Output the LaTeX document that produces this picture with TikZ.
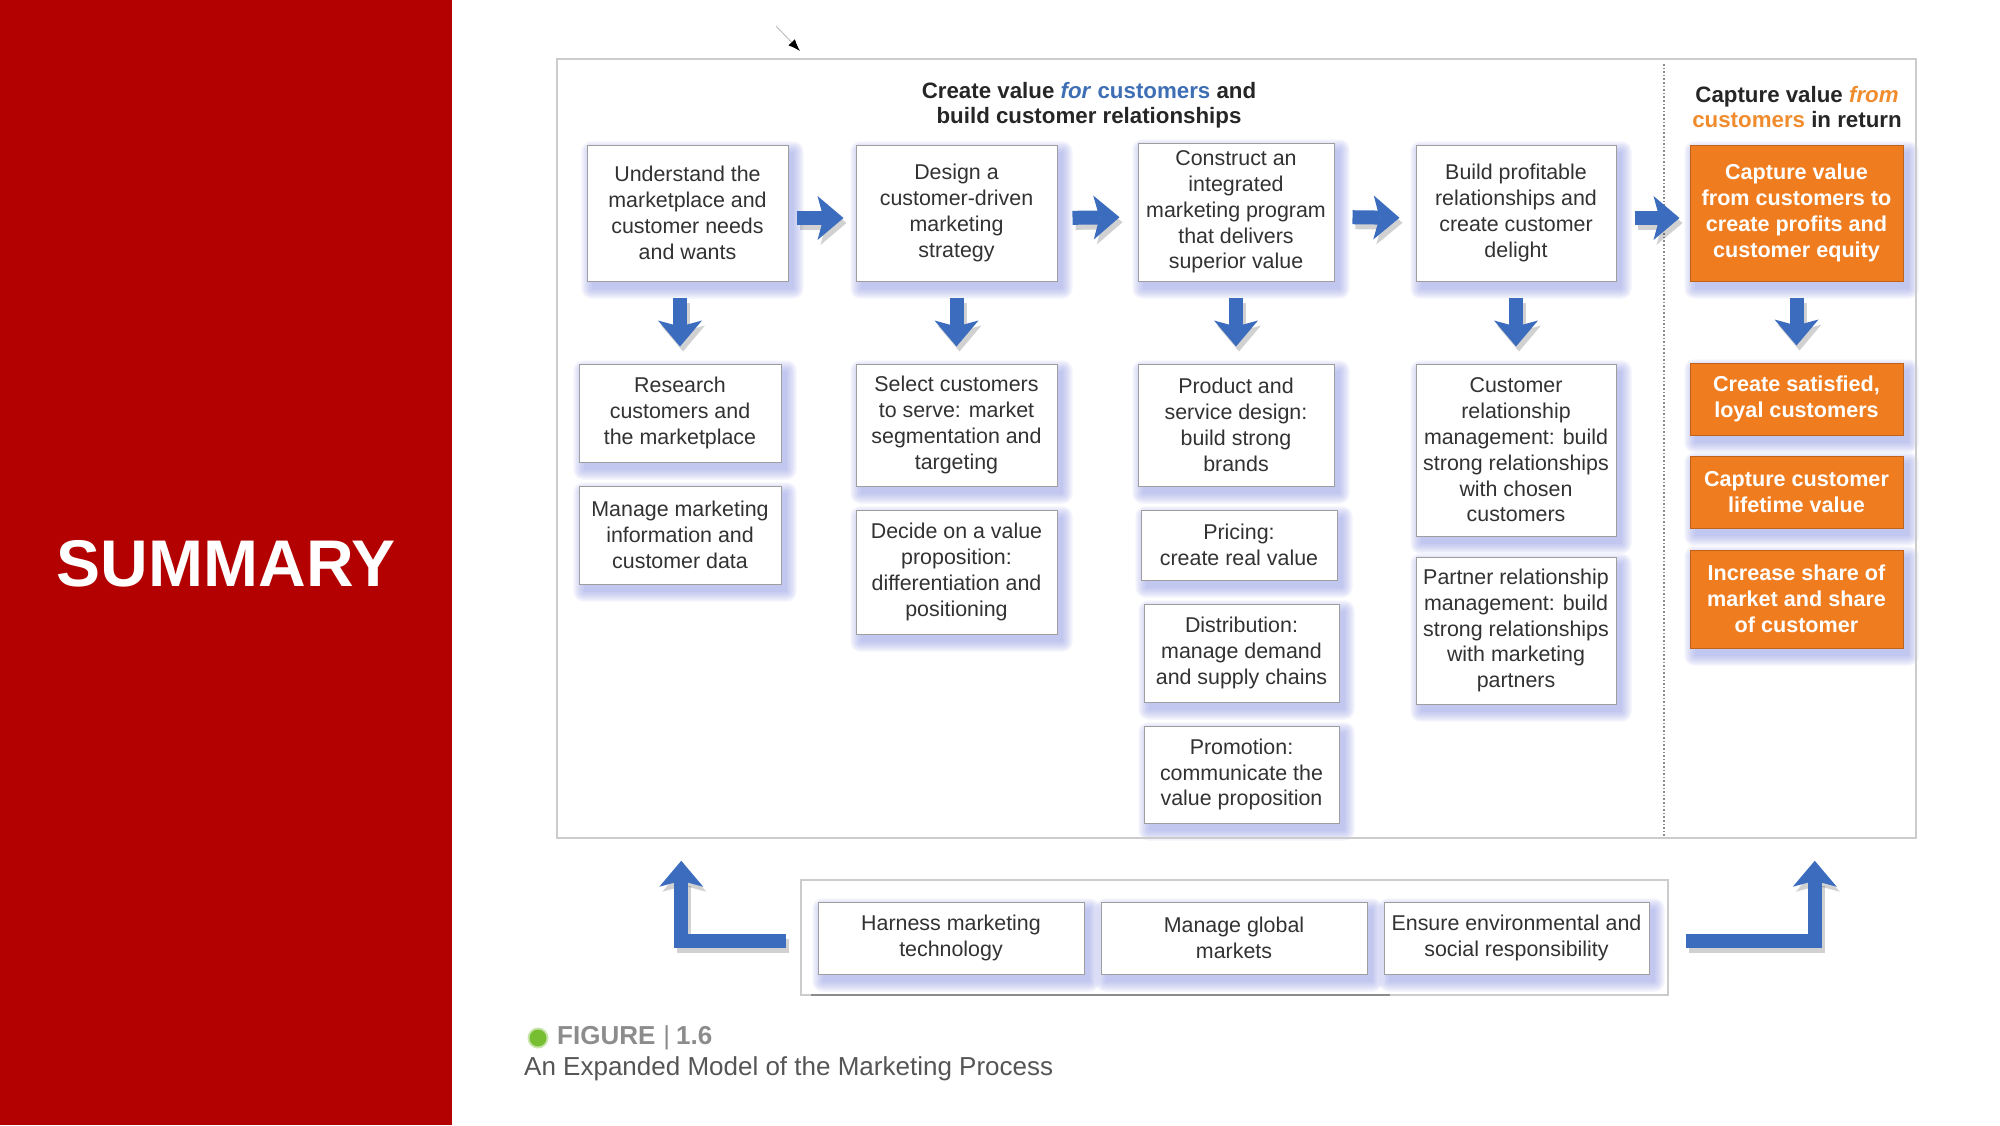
\documentclass[tikz,border=0pt]{standalone}
\usepackage{fontspec}
\setmainfont{Liberation Sans}
\usetikzlibrary{arrows.meta,backgrounds}
\definecolor{panelred}{RGB}{179,0,0}
\definecolor{arrblue}{RGB}{59,108,189}
\definecolor{boxorange}{RGB}{240,124,32}
\definecolor{headblue}{RGB}{62,110,180}
\definecolor{headorange}{RGB}{240,140,45}
\definecolor{txtgray}{RGB}{50,50,50}
\definecolor{shadowblue}{RGB}{140,150,225}
\definecolor{figgreen}{RGB}{120,190,50}
\definecolor{figgray}{RGB}{140,140,140}
\definecolor{capgray}{RGB}{85,85,85}
\tikzset{
  box/.style={draw=black!38, line width=1pt, fill=white, align=center, text=txtgray,
    inner sep=0pt, font=\fontsize{21.4}{25.8}\selectfont},
  obox/.style={box, fill=boxorange, draw=boxorange!80!black, text=white,
    font=\bfseries\fontsize{21.6}{26}\selectfont},
  framebox/.style={draw=black!20, line width=1.5pt, inner sep=0pt},
  arrmain/.style={draw=arrblue, line width=14pt, line join=miter,
    -{Stealth[length=26pt,width=44pt,inset=6pt,line width=0pt]}},
  arrshad/.style={arrmain, draw=black, opacity=0.18, transform canvas={xshift=3pt,yshift=-5pt}},
  heading/.style={align=center, text=black!85, font=\bfseries\fontsize{22.3}{25}\selectfont},
}
\newcommand{\softshadow}[1]{%
  \begin{pgfonlayer}{background}
  \foreach \e in {0,2,4,6,8,10}{%
    \fill[shadowblue, opacity=0.12, rounded corners=\e pt]
      ([xshift=5pt-\e pt, yshift=-7pt-\e pt]#1.south west) rectangle
      ([xshift=5pt+\e pt, yshift=-7pt+\e pt]#1.north east);
  }
  \end{pgfonlayer}}
\newcommand{\BlockArr}[2][]{%
  \draw[arrshad,#1] #2;
  \draw[arrmain,#1] #2;}
\begin{document}
\begin{tikzpicture}[x=1pt,y=-1pt]
\useasboundingbox (0,0) rectangle (2000,1125);
% left red panel
\fill[panelred] (0,0) rectangle (452,1125);
\node[text=white, font=\bfseries\fontsize{66}{70}\selectfont] (sum) at (226,564) {SUMMARY};

% frames
\node[framebox, minimum width=1359pt, minimum height=779pt] (Frame) at (1236.5,448.5) {};
\draw[black!45, dotted, line width=1.6pt] (1664,64) -- (1664,836);
\node[framebox, minimum width=867pt, minimum height=115pt] (Bframe) at (1234.5,937.5) {};
\draw[black!45, line width=2.5pt] (811,995) -- (1390,995);

% headings
\node[heading] (H1) at (1089,105) {Create value \textcolor{headblue}{\textit{for} customers} and\\build customer relationships};
\node[heading] (H2) at (1797,107.5) {Capture value \textcolor{headorange}{\textit{from}}\\\textcolor{headorange}{customers} in return};

% top row
\node[box, minimum width=201pt, minimum height=136pt] (T1) at (687.5,213) {Understand the\\marketplace and\\customer needs\\and wants};
\node[box, minimum width=201pt, minimum height=136pt] (T2) at (956.5,213) {Design a\\customer-driven\\marketing\\strategy};
\node[box, minimum width=196pt, minimum height=138pt] (T3) at (1236,212) {Construct an\\integrated\\marketing program\\that delivers\\superior value};
\node[box, minimum width=200pt, minimum height=136pt] (T4) at (1516,213) {Build profitable\\relationships and\\create customer\\delight};
\node[obox, minimum width=213pt, minimum height=136pt] (T5) at (1796.5,213) {Capture value\\from customers to\\create profits and\\customer equity};

% column 1
\node[box, minimum width=202pt, minimum height=98pt] (C1a) at (680,413) {Research\\customers and\\the marketplace};
\node[box, minimum width=202pt, minimum height=98pt] (C1b) at (680,535) {Manage marketing\\information and\\customer data};
% column 2
\node[box, minimum width=201pt, minimum height=122pt] (C2a) at (956.5,425) {Select customers\\to serve: market\\segmentation and\\targeting};
\node[box, minimum width=201pt, minimum height=124pt] (C2b) at (956.5,572) {Decide on a value\\proposition:\\differentiation and\\positioning};
% column 3
\node[box, minimum width=196pt, minimum height=122pt] (C3a) at (1236,425) {Product and\\service design:\\build strong\\brands};
\node[box, minimum width=196pt, minimum height=70pt] (C3b) at (1239,545) {Pricing:\\create real value};
\node[box, minimum width=195pt, minimum height=98pt] (C3c) at (1241.5,653) {Distribution:\\manage demand\\and supply chains};
\node[box, minimum width=195pt, minimum height=97pt] (C3d) at (1241.5,774.5) {Promotion:\\communicate the\\value proposition};
% column 4
\node[box, minimum width=200pt, minimum height=172pt] (C4a) at (1516,450) {Customer\\relationship\\management: build\\strong relationships\\with chosen\\customers};
\node[box, minimum width=200pt, minimum height=147pt] (C4b) at (1516,630.5) {Partner relationship\\management: build\\strong relationships\\with marketing\\partners};
% column 5
\node[obox, minimum width=213pt, minimum height=72pt] (O2) at (1796.5,399) {Create satisfied,\\loyal customers};
\node[obox, minimum width=213pt, minimum height=72pt] (O3) at (1796.5,492) {Capture customer\\lifetime value};
\node[obox, minimum width=213pt, minimum height=98pt] (O4) at (1796.5,599) {Increase share of\\market and share\\of customer};
% bottom row
\node[box, minimum width=266pt, minimum height=72pt] (B1) at (951,938) {Harness marketing\\technology};
\node[box, minimum width=266pt, minimum height=72pt] (B2) at (1234,938) {Manage global\\markets};
\node[box, minimum width=265pt, minimum height=72pt] (B3) at (1516.5,938) {Ensure environmental and\\social responsibility};

% shadows
\foreach \n in {T1,T2,T3,T4,T5,C1a,C1b,C2a,C2b,C3a,C3b,C3c,C3d,C4a,C4b,O2,O3,O4,B1,B2,B3}{\softshadow{\n}}

% horizontal arrows
\BlockArr[shorten <=8pt, shorten >=12pt]{([yshift=-5pt]T1.east) -- ([yshift=-5pt]T2.west)}
\BlockArr[shorten <=15pt, shorten >=18pt]{([yshift=-5pt]T2.east) -- ([yshift=-5pt]T3.west)}
\BlockArr[shorten <=18pt, shorten >=16pt]{([yshift=-5pt]T3.east) -- ([yshift=-5pt]T4.west)}
\BlockArr[shorten <=18pt, shorten >=10pt]{([yshift=-5pt]T4.east) -- ([yshift=-5pt]T5.west)}
% down arrows
\BlockArr[shorten <=16pt, shorten >=17pt]{(T1.south -| C1a.north) -- (C1a.north)}
\BlockArr[shorten <=16pt, shorten >=17pt]{(T2.south -| C2a.north) -- (C2a.north)}
\BlockArr[shorten <=16pt, shorten >=17pt]{(T3.south -| C3a.north) -- (C3a.north)}
\BlockArr[shorten <=16pt, shorten >=17pt]{(T4.south -| C4a.north) -- (C4a.north)}
\BlockArr[shorten <=16pt, shorten >=17pt]{(T5.south -| O2.north) -- (O2.north)}
% bottom L arrows
\BlockArr[shorten <=14pt, shorten >=22pt]{([yshift=-3pt]Bframe.west) -| ([xshift=125pt]Frame.south west)}
\BlockArr[shorten <=17pt, shorten >=22pt]{([yshift=-3pt]Bframe.east) -| ([xshift=-102pt]Frame.south east)}

% caption
\fill[figgreen!40] (538,1038) circle (10.5pt);
\node[circle, fill=figgreen, minimum size=17pt, inner sep=0pt] (dot) at (538,1038) {};
\node[anchor=west, inner sep=0pt, text=figgray, font=\bfseries\fontsize{26}{30}\selectfont] (fig) at (557,1038) {FIGURE\hspace{8pt}{\mdseries|}\hspace{6pt}1.6};
\node[anchor=west, inner sep=0pt, text=capgray, font=\fontsize{26}{30}\selectfont] (cap) at (524,1069) {An Expanded Model of the Marketing Process};

% mouse pointer
\coordinate (cur1) at (776,26);
\coordinate (cur2) at (800,51);
\draw[black!25, line width=1pt, -{Latex[black,length=12pt,width=9pt]}] (cur1) -- (cur2);
\end{tikzpicture}
\end{document}
